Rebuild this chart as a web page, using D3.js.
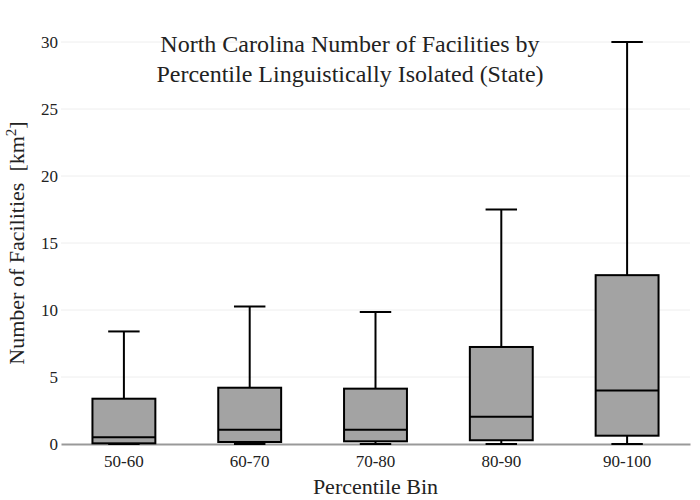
<!DOCTYPE html>
<html><head><meta charset="utf-8">
<script src="https://cdn.jsdelivr.net/npm/d3@7"></script>
<style>body{margin:0;background:#fff}svg{display:block}</style>
</head><body><div id="chart"></div>
<script>
const categories = ["50-60","60-70","70-80","80-90","90-100"];
const lowerWhisker = [0, 0, 0, 0, 0];
const q1 = [0.05, 0.15, 0.2, 0.28, 0.62];
const median = [0.5, 1.07, 1.07, 2.04, 4.0];
const q3 = [3.38, 4.2, 4.13, 7.24, 12.6];
const upperWhisker = [8.4, 10.27, 9.85, 17.5, 30];
const yTicks = [0, 5, 10, 15, 20, 25, 30];

const FONT = "'Liberation Serif', 'Times New Roman', serif";
const W = 700, H = 500;
const m = {l: 61, r: 10, t: 42, b: 56};
const svg = d3.select("#chart").append("svg").attr("width", W).attr("height", H)
  .attr("font-family", FONT).style("font-family", FONT);

const x = d3.scaleBand().domain(categories).range([m.l, W - m.r]).paddingInner(0).paddingOuter(0);
const y = d3.scaleLinear().domain([0, 30]).range([H - m.b, m.t]);

// grid
svg.append("g").selectAll("line").data(yTicks.slice(1)).join("line")
  .attr("x1", m.l).attr("x2", W - m.r)
  .attr("y1", d => y(d)).attr("y2", d => y(d))
  .attr("stroke", "#eeeeee").attr("stroke-width", 1);

// y axis
const yAxis = svg.append("g").attr("transform", `translate(${m.l},0)`)
  .call(d3.axisLeft(y).tickValues(yTicks).tickSize(0).tickPadding(3));
yAxis.attr("font-family", FONT);
yAxis.select(".domain").remove();
yAxis.selectAll("text").attr("font-size", 17).attr("fill", "#222").style("font-family", FONT);

// x axis
const xAxis = svg.append("g").attr("transform", `translate(0,${y(0)})`)
  .call(d3.axisBottom(x).tickSize(0).tickPadding(10));
xAxis.attr("font-family", FONT);
xAxis.select(".domain").attr("stroke", "#999").attr("stroke-width", 2);
xAxis.selectAll("text").attr("font-size", 17).attr("fill", "#222").style("font-family", FONT)
  .attr("dy", null).attr("y", 23);

const data = categories.map((c, i) => ({c, lw: lowerWhisker[i], q1: q1[i], med: median[i], q3: q3[i], uw: upperWhisker[i]}));
const bw = x.bandwidth() * 0.5;
const cw = bw * 0.5;

const g = svg.append("g").selectAll("g").data(data).join("g")
  .attr("transform", d => `translate(${x(d.c) + x.bandwidth() / 2},0)`);

g.append("line").attr("x1", 0).attr("x2", 0).attr("y1", d => y(d.q3)).attr("y2", d => y(d.uw)).attr("stroke", "#000").attr("stroke-width", 2);
g.append("line").attr("x1", 0).attr("x2", 0).attr("y1", d => y(d.q1)).attr("y2", d => y(d.lw)).attr("stroke", "#000").attr("stroke-width", 2);
g.append("line").attr("x1", -cw / 2).attr("x2", cw / 2).attr("y1", d => y(d.uw)).attr("y2", d => y(d.uw)).attr("stroke", "#000").attr("stroke-width", 2);
g.append("line").attr("x1", -cw / 2).attr("x2", cw / 2).attr("y1", d => y(d.lw)).attr("y2", d => y(d.lw)).attr("stroke", "#000").attr("stroke-width", 2);
g.append("rect").attr("x", -bw / 2).attr("width", bw)
  .attr("y", d => y(d.q3)).attr("height", d => y(d.q1) - y(d.q3))
  .attr("fill", "#a3a3a3").attr("stroke", "#000").attr("stroke-width", 2);
g.append("line").attr("x1", -bw / 2).attr("x2", bw / 2).attr("y1", d => y(d.med)).attr("y2", d => y(d.med)).attr("stroke", "#000").attr("stroke-width", 2);

// title
const title = svg.append("text").attr("x", 350).attr("text-anchor", "middle").attr("font-size", 24).attr("fill", "#222").style("font-family", FONT);
title.append("tspan").attr("x", 350).attr("y", 52).text("North Carolina Number of Facilities by");
title.append("tspan").attr("x", 350).attr("y", 82).text("Percentile Linguistically Isolated (State)");

// axis titles
svg.append("text").attr("x", (m.l + W - m.r) / 2).attr("y", 494).attr("text-anchor", "middle")
  .attr("font-size", 22).attr("fill", "#222").style("font-family", FONT).text("Percentile Bin");
const yt = svg.append("text").attr("transform", `translate(24,${(m.t + H - m.b) / 2}) rotate(-90)`)
  .attr("text-anchor", "middle").attr("font-size", 22).attr("fill", "#222")
  .style("font-family", FONT).style("white-space", "pre").attr("xml:space", "preserve");
yt.append("tspan").text("Number of Facilities\u00a0 [km");
yt.append("tspan").attr("font-size", 15).attr("dy", -8).text("2");
yt.append("tspan").attr("dy", 8).text("]");
</script></body></html>
